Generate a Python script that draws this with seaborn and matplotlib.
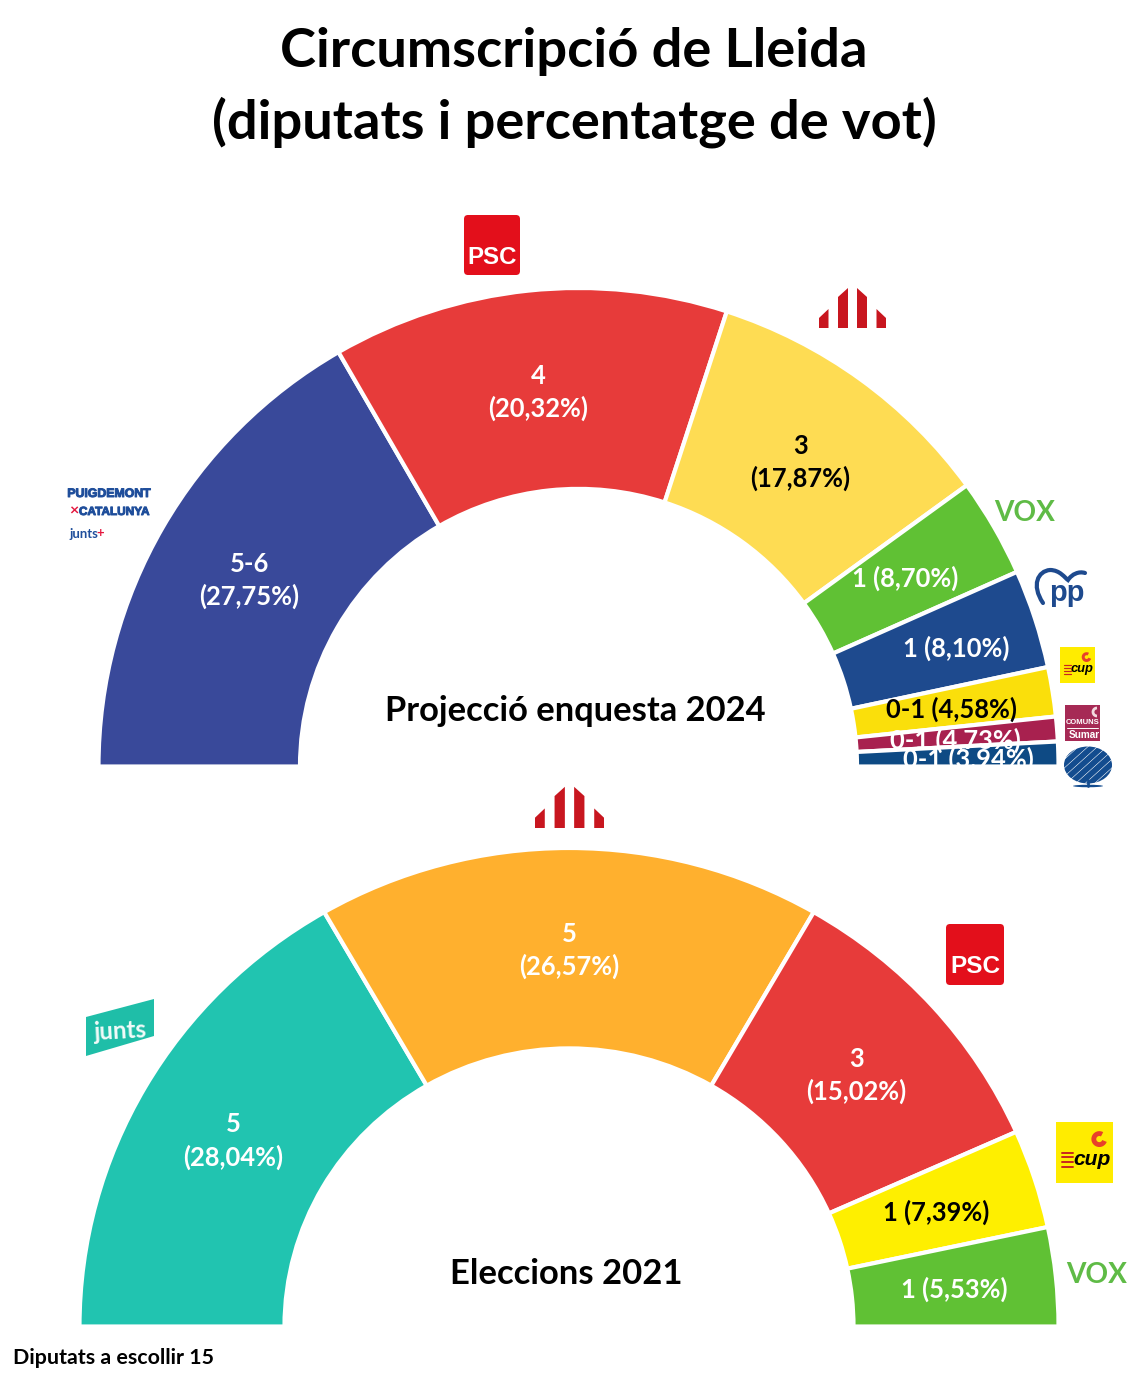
import matplotlib
matplotlib.use("Agg")
import matplotlib.pyplot as plt
import matplotlib.patheffects as pe
import seaborn as sns
from matplotlib.patches import Polygon, FancyBboxPatch, Ellipse, PathPatch, Arc
from matplotlib.path import Path
from matplotlib.transforms import Affine2D
import numpy as np

# ---------- data ----------
title_lines = ["Circumscripció de Lleida", "(diputats i percentatge de vot)"]
top_parties = ["Junts", "PSC", "ERC", "Vox", "PP", "CUP", "Comuns", "AC"]
top_arc_seats = [5, 4, 3, 1, 1, 0.5, 0.25, 0.25]
top_seat_text = ["5-6", "4", "3", "1", "1", "0-1", "0-1", "0-1"]
top_vote_text = ["27,75%", "20,32%", "17,87%", "8,70%", "8,10%", "4,58%", "4,73%", "3,94%"]
top_colors = ["#39499A", "#E73B3A", "#FEDC53", "#60C134", "#1E4A8E", "#FADF0B", "#A8214F", "#0E4A84"]
top_text_colors = ["white", "white", "black", "white", "white", "black", "white", "white"]
top_heading = "Projecció enquesta 2024"

bot_parties = ["Junts", "ERC", "PSC", "CUP", "Vox"]
bot_arc_seats = [5, 5, 3, 1, 1]
bot_seat_text = ["5", "5", "3", "1", "1"]
bot_vote_text = ["28,04%", "26,57%", "15,02%", "7,39%", "5,53%"]
bot_colors = ["#21C4B0", "#FFB02E", "#E73B3A", "#FEEF00", "#60C134"]
bot_text_colors = ["white", "white", "white", "black", "white"]
bot_heading = "Eleccions 2021"
footer = "Diputats a escollir 15"

# ---------- layout (pixels) ----------
W, H = 1140, 1390
FONT = "Lato"
sns.set_theme(style="white")
plt.rcParams["font.family"] = [FONT, "DejaVu Sans"]
px = 0.72  # px -> pt at dpi 100
EDGE = 1.5

fig = plt.figure(figsize=(W / 100, H / 100), dpi=100, facecolor="white")
ax = fig.add_axes([0, 0, 1, 1])


def hemicycle(seats, colors, seat_txt, vote_txt, txt_cols, cx, cy, Rx, Ry, rx, ry, offsets, two_line, clip_idx=()):
    vals = list(seats) + [sum(seats)]
    pal = list(sns.color_palette(colors)) + ["none"]
    R = Rx + EDGE
    c = (cx, cy + EDGE)
    wedges, _ = ax.pie(vals, colors=pal, center=c, radius=R, startangle=180,
                       counterclock=True, frame=True,
                       wedgeprops=dict(width=R - (rx - EDGE), edgecolor="white", linewidth=3))
    squash = Affine2D().translate(-c[0], -c[1]).scale(1, (Ry + EDGE) / R).translate(c[0], c[1])
    for w in wedges:
        w.set_transform(squash + ax.transData)
    wedges[-1].set_visible(False)
    edges = np.cumsum([0] + list(seats)) / sum(seats) * 180
    for i, (a0, a1) in enumerate(zip(edges[:-1], edges[1:])):
        ang = np.deg2rad(180 - (a0 + a1) / 2)
        x = cx + (Rx + rx) / 2 * np.cos(ang) + offsets[i][0]
        y = cy - (Ry + ry) / 2 * np.sin(ang) + offsets[i][1]
        s = f"{seat_txt[i]}\n({vote_txt[i]})" if two_line[i] else f"{seat_txt[i]} ({vote_txt[i]})"
        t = ax.text(x, y, s, ha="center", va="center", color=txt_cols[i], fontsize=25.5 * px,
                    fontweight="bold", linespacing=1.4, zorder=5)
        if i in clip_idx:
            t.set_clip_path(wedges[i])
            t.set_clip_on(True)
    return wedges


hemicycle(top_arc_seats, top_colors, top_seat_text, top_vote_text, top_text_colors,
          578.5, 765, 478.5, 477, 280, 277,
          [(-1, 4), (-1, 2.5), (-1, 2.5), (-2, 2), (17, -0.5), (-2, 3), (-1, 4.5), (11, 4)],
          [True, True, True, False, False, False, False, False], clip_idx=(6, 7))
hemicycle(bot_arc_seats, bot_colors, bot_seat_text, bot_vote_text, bot_text_colors,
          569, 1325, 488, 477, 286, 279,
          [(-1, 5), (0, 3.5), (0, 3.5), (-1, 4), (0, 3.5)],
          [True, True, True, False, False])

ax.set_xlim(0, W)
ax.set_ylim(H, 0)
ax.set_axis_off()

# ---------- titles ----------
for y, line in zip((51, 122), title_lines):
    ax.text(574, y, line, ha="center", va="center", fontsize=54.2 * px, fontweight="bold", color="black")
ax.text(575, 711, top_heading, ha="center", va="center", fontsize=34.5 * px, fontweight="bold", color="black")
ax.text(566, 1274, bot_heading, ha="center", va="center", fontsize=34.7 * px, fontweight="bold", color="black")
ax.text(13, 1358, footer, ha="left", va="center", fontsize=21.4 * px, fontweight="bold", color="black")


# ---------- logos ----------
def psc(x0, y0, x1, y1):
    ax.add_patch(FancyBboxPatch((x0 + 3, y0 + 3), x1 - x0 - 6, y1 - y0 - 6,
                                boxstyle="round,pad=3,rounding_size=4", fc="#E30F1B", ec="none", zorder=3))
    ax.text((x0 + x1) / 2, y0 + (y1 - y0) * 0.70, "PSC", ha="center", va="center", color="white",
            fontsize=(y1 - y0) * 0.40 * px, fontweight="bold", family="Liberation Sans", zorder=4)


def erc(cx, base, s):
    red = "#C8161F"
    for sign in (-1, 1):
        ax.add_patch(Polygon([(cx + sign * 4.5 * s, base), (cx + sign * 14.5 * s, base),
                              (cx + sign * 14.5 * s, base - 31 * s), (cx + sign * 4.5 * s, base - 40 * s)],
                             fc=red, ec="none", zorder=3))
        ax.add_patch(Polygon([(cx + sign * 24 * s, base), (cx + sign * 33.5 * s, base),
                              (cx + sign * 33.5 * s, base - 10 * s), (cx + sign * 24 * s, base - 19 * s)],
                             fc=red, ec="none", zorder=3))


def vox(cx, cy):
    ax.text(cx, cy, "VOX", ha="center", va="center", color="#5FBB46", fontsize=28 * px,
            family="Lato", fontweight="bold", zorder=3)


def cup(x0, y0, x1, y1):
    w = x1 - x0
    h = y1 - y0
    s = w / 57
    ax.add_patch(plt.Rectangle((x0, y0), w, h, fc="#FFEC00", ec="none", zorder=3))
    ax.add_patch(Arc((x0 + 0.76 * w, y0 + 0.28 * h), 11 * s, 11 * s, theta1=20, theta2=300,
                     ec="#E8402A", lw=3.5 * s, zorder=4))
    ax.text(x0 + 0.64 * w, y0 + 0.62 * h, "cup", ha="center", va="center", color="black",
            style="italic", fontweight="bold", family="Liberation Sans", fontsize=21 * s * px, zorder=4)
    for f in (0.50, 0.58, 0.66, 0.74):
        ax.plot([x0 + 0.10 * w, x0 + 0.30 * w], [y0 + f * h, y0 + f * h], color="#C8261E", lw=1.4 * s, zorder=4)


# PSC
psc(464, 215, 520, 275)
psc(946, 924, 1004, 985)
# ERC
erc(852.5, 328, 1.0)
erc(569.5, 828, 1.03)
# Vox
vox(1025, 513)
vox(1097, 1275)
# PP
pp_blue = "#1E4A8E"
ax.text(1067, 593, "pp", ha="center", va="center", color=pp_blue, fontsize=29 * px, fontweight="bold",
        family="Liberation Sans", zorder=3)
pp_arc = Path([(1043, 603), (1031, 585), (1038, 571), (1050, 570), (1060, 570), (1065, 578), (1068, 580),
               (1072, 574), (1079, 571), (1085, 573)],
              [Path.MOVETO, Path.CURVE4, Path.CURVE4, Path.CURVE4, Path.CURVE4, Path.CURVE4, Path.CURVE4,
               Path.CURVE4, Path.CURVE4, Path.CURVE4])
ax.add_patch(PathPatch(pp_arc, fc="none", ec=pp_blue, lw=3, capstyle="round", zorder=3))
# CUP
cup(1060, 647, 1095, 683)
cup(1056, 1122, 1113, 1183)
# Comuns i Sumar
ax.add_patch(plt.Rectangle((1065, 705), 35, 36, fc="#A62A55", ec="none", zorder=3))
ax.add_patch(Arc((1097, 712), 8, 8, theta1=90, theta2=270, ec="#F3D9DF", lw=2, zorder=4))
ax.text(1082.5, 722.5, "COMUNS", ha="center", va="center", color="white", fontsize=7.6 * px,
        fontweight="bold", family="Liberation Sans", zorder=4)
ax.plot([1067, 1098], [727.5, 727.5], color="white", lw=0.7, zorder=4)
ax.text(1084, 734.5, "Sumar", ha="center", va="center", color="white", fontsize=10 * px,
        fontweight="bold", family="Liberation Sans", zorder=4)
# Aliança Catalana
ac_blue = "#134C8F"
dome = Ellipse((1088, 765), 48, 37, fc="none", ec="none", zorder=3)
ax.add_patch(dome)
for k in range(-4, 5):
    ln, = ax.plot([1058 + k * 9.5, 1118 + k * 9.5], [795, 741], color=ac_blue, lw=4.2, zorder=3)
    ln.set_clip_path(dome)
ax.add_patch(Ellipse((1088, 786), 30, 2.5, fc=ac_blue, ec="none", zorder=3))
ax.plot([1088, 1088], [780, 786], color=ac_blue, lw=2, zorder=3)
# Puigdemont x Catalunya
pc_blue = "#1F4E9B"
thick = [pe.withStroke(linewidth=0.7, foreground=pc_blue)]
ax.text(109, 494, "PUIGDEMONT", ha="center", va="center", color=pc_blue, fontsize=12.3 * px,
        fontweight="bold", family="Liberation Sans", zorder=3, path_effects=thick)
ax.text(114, 512, "CATALUNYA", ha="center", va="center", color=pc_blue, fontsize=11.8 * px,
        fontweight="bold", family="Liberation Sans", zorder=3, path_effects=thick)
ax.text(73.5, 512, "×", ha="center", va="center", color="#E4173E", fontsize=16 * px, fontweight="bold", zorder=3)
ax.text(69, 534, "junts", ha="left", va="center", color=pc_blue, fontsize=13 * px, fontweight="bold", zorder=3)
ax.text(100, 533.5, "+", ha="center", va="center", color="#E4173E", fontsize=13 * px, fontweight="bold", zorder=3)
# Junts
ax.add_patch(Polygon([(86, 1017), (154, 999), (154, 1036), (86, 1056)], fc="#1FBEA8", ec="none", zorder=3))
ax.text(121, 1031, "junts", ha="center", va="center", color="#F2FBF9", fontsize=24 * px, fontweight="bold",
        rotation=3, zorder=4)

fig.savefig("out.png", dpi=100, facecolor="white")
